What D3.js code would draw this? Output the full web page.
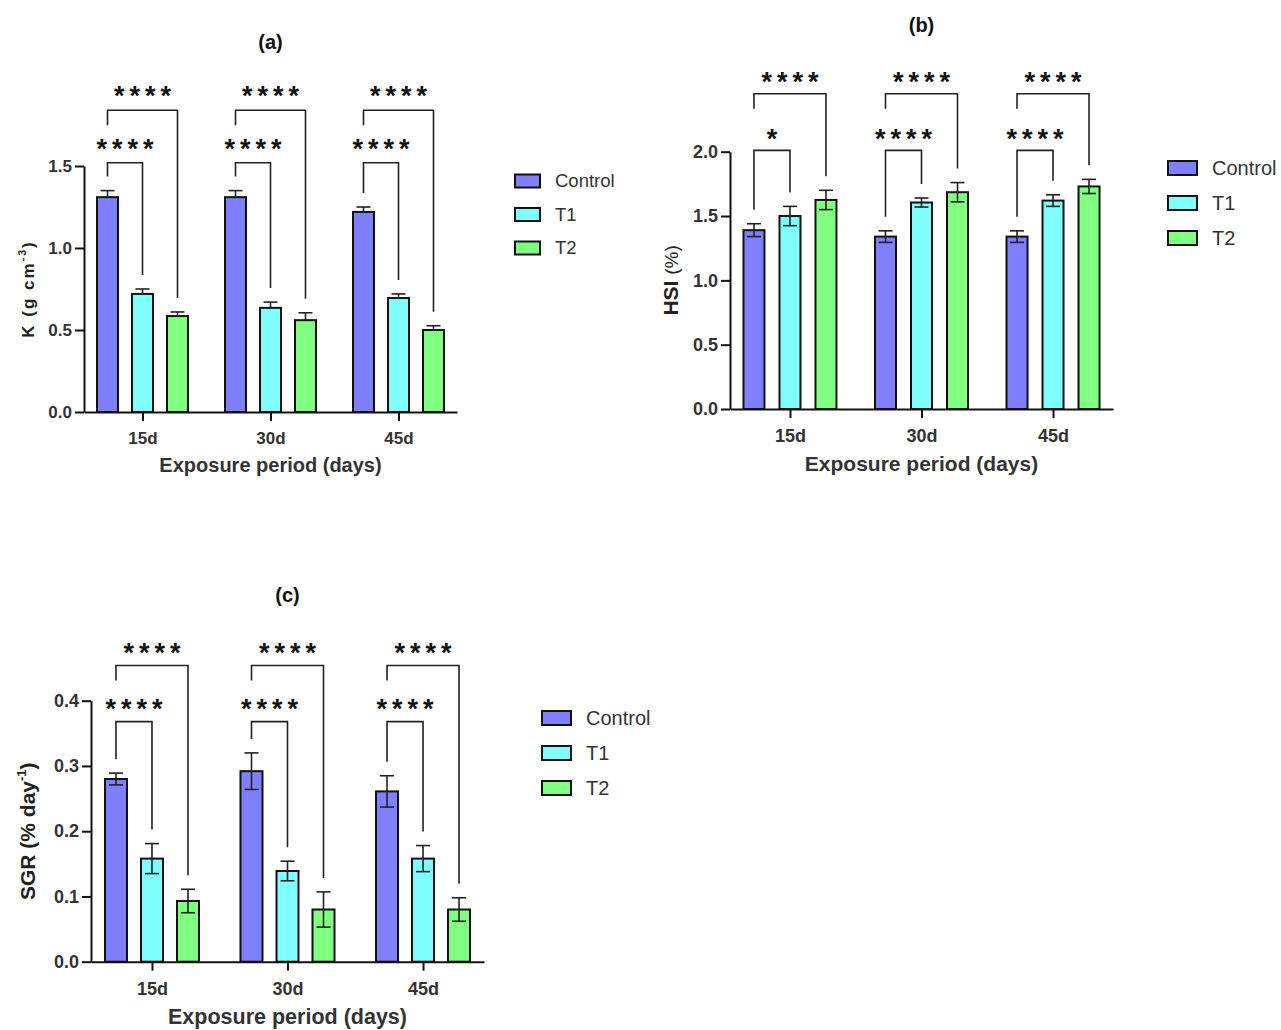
<!DOCTYPE html>
<html>
<head>
<meta charset="utf-8">
<script src="https://cdn.jsdelivr.net/npm/d3@7"></script>
<style>
  html, body { margin: 0; padding: 0; background: #fff; }
  svg { display: block; font-family: "Liberation Sans", Arial, sans-serif; }
</style>
</head>
<body>
<svg id="chart" width="1281" height="1030"></svg>
<script>
// Exposure periods and treatment groups
const groups = ["15d", "30d", "45d"];
const series = ["Control", "T1", "T2"];
const seriesColors = ["#8080ff", "#80ffff", "#80ff80"];

// (a) Condition factor K (g cm^-3): mean and SEM per group
const kControl = [1.31, 1.31, 1.22];
const kT1 = [0.72, 0.635, 0.695];
const kT2 = [0.585, 0.56, 0.50];
const kControlErr = [0.04, 0.04, 0.03];
const kT1Err = [0.03, 0.035, 0.025];
const kT2Err = [0.025, 0.045, 0.026];
const kTicks = [0, 0.5, 1.0, 1.5];
const kSig = [["****", "****"], ["****", "****"], ["****", "****"]];

// (b) Hepatosomatic index HSI (%)
const hsiControl = [1.39, 1.34, 1.34];
const hsiT1 = [1.50, 1.605, 1.62];
const hsiT2 = [1.625, 1.685, 1.73];
const hsiControlErr = [0.05, 0.045, 0.045];
const hsiT1Err = [0.075, 0.035, 0.045];
const hsiT2Err = [0.075, 0.075, 0.055];
const hsiTicks = [0, 0.5, 1.0, 1.5, 2.0];
const hsiSig = [["*", "****"], ["****", "****"], ["****", "****"]];

// (c) Specific growth rate SGR (% day^-1)
const sgrControl = [0.28, 0.292, 0.261];
const sgrT1 = [0.158, 0.139, 0.158];
const sgrT2 = [0.093, 0.080, 0.080];
const sgrControlErr = [0.009, 0.028, 0.024];
const sgrT1Err = [0.023, 0.015, 0.02];
const sgrT2Err = [0.018, 0.027, 0.018];
const sgrTicks = [0, 0.1, 0.2, 0.3, 0.4];
const sgrSig = [["****", "****"], ["****", "****"], ["****", "****"]];

const svg = d3.select("#chart");

function drawPanel(cfg) {
  const g = svg.append("g");
  const x = d3.scalePoint().domain(groups).range([cfg.left, cfg.right]).padding(cfg.pad);
  const xs = d3.scalePoint().domain(series).range([-cfg.off, cfg.off]);
  const y = d3.scaleLinear().domain([0, cfg.yMax]).range([cfg.bottom, cfg.top]);

  // bars
  groups.forEach((grp, gi) => {
    series.forEach((s, si) => {
      const v = cfg.means[si][gi];
      const cx = x(grp) + xs(s);
      g.append("rect")
        .attr("x", cx - cfg.barW / 2)
        .attr("y", y(v))
        .attr("width", cfg.barW)
        .attr("height", y(0) - y(v))
        .attr("fill", seriesColors[si])
        .attr("stroke", "#111")
        .attr("stroke-width", 2);
    });
  });

  // error bars
  groups.forEach((grp, gi) => {
    series.forEach((s, si) => {
      const v = cfg.means[si][gi];
      const e = cfg.errs[si][gi];
      const cx = x(grp) + xs(s);
      const lo = cfg.upOnly ? v : v - e;
      g.append("line")
        .attr("x1", cx).attr("x2", cx)
        .attr("y1", y(lo)).attr("y2", y(v + e))
        .attr("stroke", "#222").attr("stroke-width", 1.6);
      g.append("line")
        .attr("x1", cx - 7).attr("x2", cx + 7)
        .attr("y1", y(v + e)).attr("y2", y(v + e))
        .attr("stroke", "#222").attr("stroke-width", 1.6);
      if (!cfg.upOnly) {
        g.append("line")
          .attr("x1", cx - 7).attr("x2", cx + 7)
          .attr("y1", y(v - e)).attr("y2", y(v - e))
          .attr("stroke", "#222").attr("stroke-width", 1.6);
      }
    });
  });

  // significance brackets (Control vs T1, Control vs T2)
  const gap = 14;
  groups.forEach((grp, gi) => {
    const xc = x(grp) + xs("Control");
    const x1 = x(grp) + xs("T1");
    const x2 = x(grp) + xs("T2");
    const topC = y(cfg.means[0][gi] + cfg.errs[0][gi]) - gap;
    const top1 = y(cfg.means[1][gi] + cfg.errs[1][gi]) - gap;
    const top2 = y(cfg.means[2][gi] + cfg.errs[2][gi]) - gap;
    const yL = y(cfg.lowLevel);
    const yU = y(cfg.highLevel);
    g.append("path")
      .attr("d", `M${xc},${topC}V${yL}H${x1}V${top1}`)
      .attr("fill", "none").attr("stroke", "#222").attr("stroke-width", 1.6);
    g.append("path")
      .attr("d", `M${xc},${yU + 15}V${yU}H${x2}V${top2}`)
      .attr("fill", "none").attr("stroke", "#222").attr("stroke-width", 1.6);
    drawStars(g, cfg.sig[gi][0], (xc + x1) / 2, yL - cfg.starOff);
    drawStars(g, cfg.sig[gi][1], (xc + x2) / 2, yU - cfg.starOff);
  });

  // axes
  const yAxis = d3.axisLeft(y).tickValues(cfg.ticks)
    .tickFormat(d3.format(cfg.fmt)).tickSize(9).tickSizeOuter(0).tickPadding(3);
  const ya = g.append("g").attr("transform", `translate(${cfg.left},0)`).call(yAxis);
  const xAxis = d3.axisBottom(x).tickSize(9).tickSizeOuter(0).tickPadding(cfg.xPad);
  const xa = g.append("g").attr("transform", `translate(0,${cfg.bottom})`).call(xAxis);
  [ya, xa].forEach(a => {
    a.select(".domain").attr("stroke", "#111").attr("stroke-width", 2);
    a.selectAll(".tick line").attr("stroke", "#111").attr("stroke-width", 2);
    a.selectAll(".tick text")
      .attr("fill", "#333")
      .style("font-family", "'Liberation Sans', Arial, sans-serif")
      .style("font-weight", "bold");
  });
  ya.selectAll(".tick text").style("font-size", cfg.yTickSize + "px");
  xa.selectAll(".tick text").style("font-size", cfg.xTickSize + "px");

  // titles
  const midX = (cfg.left + cfg.right) / 2;
  g.append("text").attr("x", midX).attr("y", cfg.titleY)
    .attr("text-anchor", "middle").attr("font-weight", "bold")
    .attr("font-size", 20).attr("fill", "#111").text(cfg.title);
  g.append("text").attr("x", midX).attr("y", cfg.bottom + cfg.xTitleOff)
    .attr("text-anchor", "middle").attr("font-weight", "bold")
    .attr("font-size", cfg.xTitleSize).attr("fill", "#333")
    .text("Exposure period (days)");

  const midY = (cfg.top + cfg.bottom) / 2;
  const yl = g.append("text")
    .attr("transform", `translate(${cfg.yLabelX},${midY}) rotate(-90)`)
    .attr("text-anchor", "middle")
    .attr("font-weight", "bold")
    .attr("font-size", cfg.yLabelSize)
    .attr("letter-spacing", cfg.yLabelSpacing || 0)
    .attr("fill", "#222");
  cfg.yLabel.forEach(part => {
    const t = yl.append("tspan").text(part.t);
    if (part.sup) {
      t.attr("font-size", cfg.yLabelSize * 0.62).attr("dy", -cfg.yLabelSize * 0.45);
    } else if (part.after) {
      t.attr("dy", cfg.yLabelSize * 0.45);
    }
    if (part.size) t.attr("font-size", part.size).attr("font-weight", part.weight || "bold");
  });

  // legend
  series.forEach((s, si) => {
    const ly = cfg.legY + si * cfg.legStep;
    g.append("rect")
      .attr("x", cfg.legX).attr("y", ly - cfg.legH / 2)
      .attr("width", cfg.legW).attr("height", cfg.legH)
      .attr("fill", seriesColors[si]).attr("stroke", "#111").attr("stroke-width", 2);
    g.append("text")
      .attr("x", cfg.legX + cfg.legW + 15).attr("y", ly)
      .attr("dy", "0.35em").attr("font-size", cfg.legSize)
      .attr("fill", "#333").text(s);
  });
}

function drawStars(g, label, cx, cy) {
  const n = label.length;
  const step = 15.5;
  const fs = 27;
  for (let i = 0; i < n; i++) {
    g.append("text")
      .attr("x", cx + (i - (n - 1) / 2) * step)
      .attr("y", cy + fs * 0.56)
      .attr("text-anchor", "middle")
      .attr("font-size", fs).attr("font-weight", "bold")
      .attr("fill", "#111").text("*");
  }
}

drawPanel({
  title: "(a)", titleY: 49,
  left: 84, right: 457, bottom: 412, top: 166, pad: 0.457, off: 35, barW: 21,
  yMax: 1.5, ticks: kTicks, fmt: ".1f",
  means: [kControl, kT1, kT2], errs: [kControlErr, kT1Err, kT2Err], upOnly: true,
  sig: kSig, lowLevel: 1.52, highLevel: 1.84, starOff: 20,
  yTickSize: 17, xTickSize: 17, xPad: 11, xTitleOff: 60, xTitleSize: 20,
  yLabel: [{t: "K (g cm"}, {t: "-3", sup: true}, {t: ")", after: true}],
  yLabelX: 34, yLabelSize: 17, yLabelSpacing: 2,
  legX: 515, legY: 181, legStep: 33.5, legW: 25, legH: 13, legSize: 18.5
});

drawPanel({
  title: "(b)", titleY: 32,
  left: 730, right: 1113, bottom: 409, top: 151.7, pad: 0.456, off: 36, barW: 21,
  yMax: 2.0, ticks: hsiTicks, fmt: ".1f",
  means: [hsiControl, hsiT1, hsiT2], errs: [hsiControlErr, hsiT1Err, hsiT2Err], upOnly: false,
  sig: hsiSig, lowLevel: 2.01, highLevel: 2.45, starOff: 18,
  yTickSize: 18, xTickSize: 18, xPad: 11, xTitleOff: 62, xTitleSize: 21,
  yLabel: [{t: "HSI "}, {t: "(%)", size: 19, weight: "normal"}],
  yLabelX: 678, yLabelSize: 21,
  legX: 1168, legY: 168, legStep: 35, legW: 29, legH: 14, legSize: 20
});

drawPanel({
  title: "(c)", titleY: 602,
  left: 91, right: 484, bottom: 961.7, top: 700.7, pad: 0.45, off: 36, barW: 22,
  yMax: 0.4, ticks: sgrTicks, fmt: ".1f",
  means: [sgrControl, sgrT1, sgrT2], errs: [sgrControlErr, sgrT1Err, sgrT2Err], upOnly: false,
  sig: sgrSig, lowLevel: 0.368, highLevel: 0.454, starOff: 19,
  yTickSize: 18, xTickSize: 18, xPad: 12, xTitleOff: 62, xTitleSize: 21.5,
  yLabel: [{t: "SGR (% day"}, {t: "-1", sup: true}, {t: ")", after: true}],
  yLabelX: 35, yLabelSize: 21,
  legX: 542, legY: 718, legStep: 35, legW: 29, legH: 14, legSize: 20
});
</script>
</body>
</html>
